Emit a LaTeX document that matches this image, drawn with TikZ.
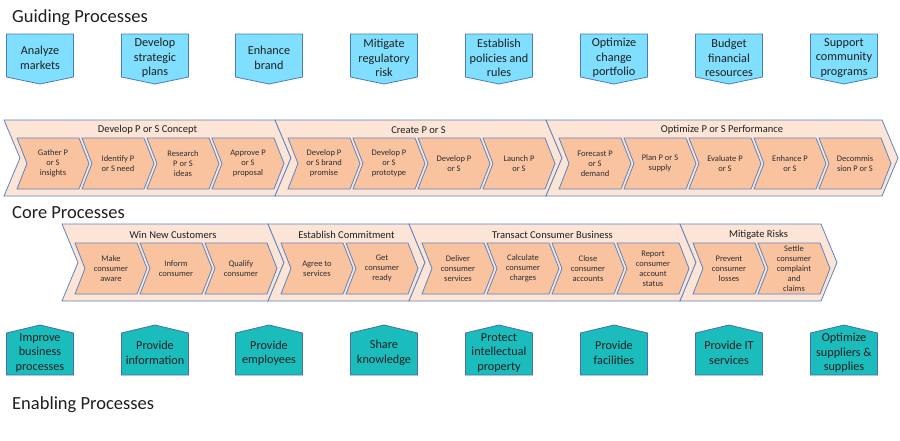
\documentclass[tikz,border=0pt]{standalone}
\usepackage{fontspec}
\setmainfont{Carlito}
\usepackage{xcolor}
\usepackage{tikz}
\usetikzlibrary{positioning}

\definecolor{guidefill}{HTML}{80DFFF}
\definecolor{guideline}{HTML}{4A7EBB}
\definecolor{bandfill}{HTML}{FCE4D6}
\definecolor{stepfill}{HTML}{F9C3A0}
\definecolor{stepline}{HTML}{5B86C0}
\definecolor{enablefill}{HTML}{1ABCBC}
\definecolor{enableline}{HTML}{4F6BAF}

\begin{document}
\begin{tikzpicture}[x=1pt,y=-1pt,
    title/.style={anchor=west,inner sep=0pt,text=black!88,font=\fontsize{18.5}{22}\selectfont},
    guidebox/.style={draw=guideline,fill=guidefill,line width=0.8pt},
    enablebox/.style={draw=enableline,fill=enablefill,line width=0.8pt},
    boxtext/.style={align=center,inner sep=0pt,text=black!88,font=\fontsize{12.2}{14.5}\selectfont},
    bandbox/.style={draw=stepline,fill=bandfill,line width=0.8pt},
    stepbox/.style={draw=stepline,fill=stepfill,line width=0.8pt},
    bandtext/.style={inner sep=0pt,text=black!88,font=\fontsize{10.5}{12}\selectfont},
    steptext/.style={align=center,inner sep=0pt,text=black!82,font=\fontsize{8.5}{10}\selectfont}]
    \useasboundingbox[fill=white] (0,0) rectangle (900,440);

    % Titles
    \node[title] (guiding) at (12,18) {Guiding Processes};
    \node[title] (core) at (12,213) {Core Processes};
    \node[title] (enabling) at (12,405) {Enabling Processes};

    % Guiding processes
    \foreach \cx/\t [count=\i] in {40/{Analyze\\markets}, 155/{Develop\\strategic\\plans},
        269/{Enhance\\brand}, 384/{Mitigate\\regulatory\\risk}, 499/{Establish\\policies and\\rules},
        614/{Optimize\\change\\portfolio}, 729/{Budget\\financial\\resources},
        844/{Support\\community\\programs}} {
        \draw[guidebox] (\cx-33.5,34) -- (\cx+33.5,34) -- (\cx+33.5,77) -- (\cx,84) -- (\cx-33.5,77) -- cycle;
        \node[boxtext] (g\i) at (\cx,58) {\t};
    }

    % Core processes, first row
    \foreach \x/\w/\t [count=\i] in {4/271/{Develop P or S Concept}, 275/271/{Create P or S},
        546/336/{Optimize P or S Performance}} {
        \draw[bandbox] (\x,120) -- (\x+\w,120) -- (\x+\w+16,158) -- (\x+\w,196) -- (\x,196) -- (\x+16,158) -- cycle;
        \node[bandtext] (pa\i) at (\x+\w/2+8,130) {\t};
    }
    \foreach \x/\t [count=\i] in {17/{Gather P\\or S\\insights}, 82/{Identify P\\or S need},
        147/{Research\\P or S\\ideas}, 212/{Approve P\\or S\\proposal},
        288/{Develop P\\or S brand\\promise}, 353/{Develop P\\or S\\prototype},
        418/{Develop P\\or S}, 483/{Launch P\\or S},
        559/{Forecast P\\or S\\demand}, 624/{Plan P or S\\supply}, 689/{Evaluate P\\or S},
        754/{Enhance P\\or S}, 819/{Decommis\\sion P or S}} {
        \draw[stepbox] (\x,138) -- (\x+62,138) -- (\x+72,163.5) -- (\x+62,189) -- (\x,189) -- (\x+10,163.5) -- cycle;
        \node[steptext] (sa\i) at (\x+36,163.5) {\t};
    }

    % Core processes, second row
    \foreach \x/\w/\t [count=\i] in {62/206/{Win New Customers}, 268/141/{Establish Commitment},
        409/271/{Transact Consumer Business}, 680/141/{Mitigate Risks}} {
        \draw[bandbox] (\x,224) -- (\x+\w,224) -- (\x+\w+16,262.5) -- (\x+\w,301) -- (\x,301) -- (\x+16,262.5) -- cycle;
        \node[bandtext] (pb\i) at (\x+\w/2+8,235) {\t};
    }
    \foreach \x/\t [count=\i] in {75/{Make\\consumer\\aware}, 140/{Inform\\consumer},
        205/{Qualify\\consumer}, 281/{Agree to\\services}, 346/{Get\\consumer\\ready},
        422/{Deliver\\consumer\\services}, 487/{Calculate\\consumer\\charges},
        552/{Close\\consumer\\accounts}, 617/{Report\\consumer\\account\\status},
        693/{Prevent\\consumer\\losses}, 758/{Settle\\consumer\\complaint\\and\\claims}} {
        \draw[stepbox] (\x,243) -- (\x+62,243) -- (\x+72,268.5) -- (\x+62,294) -- (\x,294) -- (\x+10,268.5) -- cycle;
        \node[steptext] (sb\i) at (\x+36,268.5) {\t};
    }

    % Enabling processes
    \foreach \cx/\t [count=\i] in {40/{Improve\\business\\processes}, 155/{Provide\\information},
        269/{Provide\\employees}, 384/{Share\\knowledge}, 499/{Protect\\intellectual\\property},
        614/{Provide\\facilities}, 729/{Provide IT\\services}, 844/{Optimize\\suppliers \&\\supplies}} {
        \draw[enablebox] (\cx-33.5,375) -- (\cx-33.5,333) -- (\cx,325) -- (\cx+33.5,333) -- (\cx+33.5,375) -- cycle;
        \node[boxtext] (e\i) at (\cx,353) {\t};
    }
\end{tikzpicture}
\end{document}
